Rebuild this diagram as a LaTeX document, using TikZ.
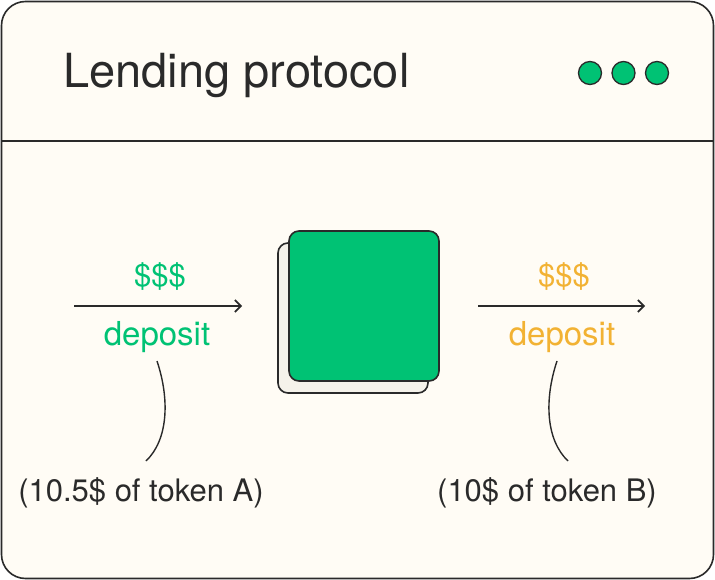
\documentclass[tikz,border=0pt]{standalone}
\usepackage{fontspec}
\setmainfont{TeX Gyre Heros}
\definecolor{cream}{HTML}{FFFCF5}
\definecolor{ink}{HTML}{2A2A2A}
\definecolor{grn}{HTML}{00C274}
\definecolor{org}{HTML}{F2B233}
\definecolor{backbox}{HTML}{F5F2EA}
\tikzset{
  frame/.style={draw=ink, line width=1.6pt, fill=cream, rounded corners=24pt},
  dotstyle/.style={circle, draw=ink, line width=1.3pt, fill=grn, minimum size=23pt, inner sep=0pt},
  flow/.style={draw=ink, line width=1.6pt, -{Straight Barb[length=6pt,width=12pt,line width=1.6pt]}},
  lbl/.style={font=\fontsize{31}{31}\selectfont, inner sep=0pt},
  dep/.style={font=\fontsize{33}{33}\selectfont, inner sep=0pt},
  lead/.style={draw=ink, line width=1.4pt},
  card/.style={draw=ink, line width=1.6pt, rounded corners=10pt},
}
\usetikzlibrary{arrows.meta}
\begin{document}
\begin{tikzpicture}[x=1pt,y=-1pt]
\useasboundingbox (0,0) rectangle (715,580);
\draw[frame] (1.5,1.5) rectangle (713.5,578.5);
\draw[draw=ink, line width=1.6pt] (1.5,141) -- (713.5,141);
\node[anchor=base west, inner sep=0pt, text=ink, font=\fontsize{47}{47}\selectfont] (title) at (63,88) {Lending protocol};
\node[dotstyle] (d1) at (590,73) {};
\node[dotstyle] (d2) at (623.5,73) {};
\node[dotstyle] (d3) at (657,73) {};
% cards
\draw[card, fill=backbox] (278,243) rectangle (428,393);
\node[card, fill=grn, minimum width=150pt, minimum height=150pt, inner sep=0pt] (pool) at (364,306) {};
% left flow
\coordinate (la) at (74,306);
\draw[flow] (la) -- (242,306);
\node[lbl, text=grn, anchor=base] (ls) at (160,287) {\$\$\$};
\node[dep, text=grn, anchor=base] (ld) at (157,345) {deposit};
\node[lbl, text=ink, anchor=base] (lt) at (141,501) {(10.5\$ of token A)};
\coordinate (lc1) at (157,361);
\coordinate (lc2) at (146,461);
\draw[lead] (lc1) .. controls (170,400) and (168,440) .. (lc2);
% right flow
\coordinate (ra) at (478,306);
\draw[flow] (ra) -- (645,306);
\node[lbl, text=org, anchor=base] (rs) at (564,287) {\$\$\$};
\node[dep, text=org, anchor=base] (rd) at (562,345) {deposit};
\node[lbl, text=ink, anchor=base] (rt) at (547,501) {(10\$ of token B)};
\coordinate (rc1) at (557,361);
\coordinate (rc2) at (568,461);
\draw[lead] (rc1) .. controls (544,400) and (546,440) .. (rc2);
\end{tikzpicture}
\end{document}
